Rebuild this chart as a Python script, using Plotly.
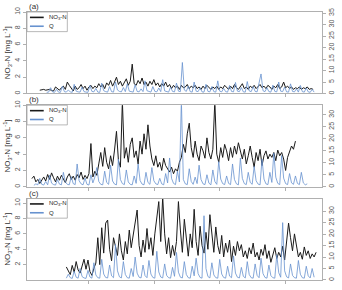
import plotly.graph_objects as go

# ---------------- data (x in plot units 0..300, sampled every 2 units) ----------------
X_TICKS = [63, 129.5, 196, 262.5]
LEFT_TICKS_AB = [0, 2, 4, 6, 8, 10]
LEFT_TICKS_C = [2, 4, 6, 8, 10]
RIGHT_TICKS_A = [0, 5, 10, 15, 20, 25, 30, 35]
RIGHT_TICKS_BC = [0, 5, 10, 15, 20, 25, 30]
PANEL_LABELS = ["(a)", "(b)", "(c)"]
NO3_NAME = "NO<sub>3</sub>-N"
Q_NAME = "Q"
STEP = 2

no3_a_start = 13
no3_a = [0.4, 0.45, 0.5, 0.4, 0.45, 0.5, 0.35,
         0.3, 0.8, 0.6, 0.4, 0.7, 0.9, 0.5,
         1.4, 1.0, 0.6, 0.3, 0.9, 0.5, 0.7,
         1.1, 0.6, 0.9, 0.4, 0.8, 1.0, 0.6,
         0.9, 0.7, 1.2, 0.8, 1.1, 0.6, 1.3,
         1.0, 1.6, 0.9, 1.4, 2.0, 1.1, 1.5,
         0.9, 1.3, 1.8, 1.0, 1.5, 3.6, 1.2,
         1.0, 1.6, 1.2, 1.9, 1.1, 1.4, 0.9,
         1.5, 1.1, 1.7, 1.0, 1.3, 0.8, 1.2,
         0.9, 1.4, 0.8, 1.1, 0.6, 1.0, 0.7,
         0.9, 0.5, 1.0, 0.7, 0.8, 1.1, 0.6,
         0.9, 0.7, 1.0, 0.6, 0.8, 0.5, 0.9,
         0.6, 1.0, 0.7, 0.5, 0.8, 0.6, 0.9,
         0.5, 0.8, 0.6, 1.0, 0.7, 0.5, 0.9,
         0.6, 1.1, 0.7, 0.5, 0.9, 1.2, 0.6,
         0.8, 0.5, 0.9, 0.7, 1.0, 0.6, 0.8,
         1.1, 0.7, 0.9, 0.6, 1.0, 0.8, 0.5,
         0.9, 0.7, 1.1, 0.6, 0.8, 1.4, 0.7,
         0.9, 0.6, 0.8, 0.5, 0.7, 0.6, 0.8,
         0.5, 0.7, 0.6, 0.8, 0.5, 0.6, 0.5]

q_a_start = 20
q_a = [0.5, 0.6, 2.5, 0.7, 0.5, 1.8, 0.6,
       0.5, 3.2, 0.8, 0.6, 1.5, 0.7, 0.5,
       4.0, 1.0, 0.7, 0.6, 2.8, 0.8, 0.6,
       0.5, 3.5, 0.9, 0.7, 2.2, 0.6, 0.5,
       4.5, 1.2, 0.8, 0.6, 3.0, 0.8, 0.6,
       5.0, 1.5, 0.9, 0.7, 2.6, 0.8, 4.2,
       1.0, 0.7, 0.6, 3.8, 0.9, 0.7, 2.0,
       0.8, 5.5, 1.2, 0.8, 0.6, 3.0, 0.9,
       0.7, 2.4, 0.8, 6.0, 1.1, 0.8, 0.6,
       2.8, 0.9, 0.7, 4.5, 1.0, 0.8, 13.5,
       1.5, 0.9, 3.2, 0.8, 0.6, 5.0, 1.0,
       0.8, 2.5, 0.7, 0.6, 4.0, 0.9, 0.7,
       3.0, 0.8, 0.6, 5.5, 1.0, 0.7, 2.2,
       0.8, 0.6, 3.5, 0.9, 0.7, 4.8, 1.0,
       0.8, 2.6, 0.7, 0.6, 5.2, 1.1, 0.8,
       3.0, 0.9, 0.7, 4.0, 8.5, 1.2, 0.8,
       2.5, 0.8, 0.6, 3.6, 0.9, 0.7, 5.0,
       1.0, 0.8, 2.8, 0.7, 0.6, 4.2, 0.9,
       0.7, 2.0, 0.6, 3.5, 0.8, 0.6, 2.4,
       0.7, 0.5, 1.8, 0.6]

no3_b_start = 5
no3_b = [1.0, 1.3, 0.6, 0.9, 0.4, 0.8, 1.2,
         0.7, 1.5, 0.9, 1.7, 1.1, 0.6, 1.3,
         0.8, 1.4, 1.0, 0.5, 1.2, 1.6, 0.9,
         1.3, 0.8, 1.5, 1.1, 1.8, 0.9, 1.4,
         1.0, 1.6, 5.3, 1.2, 1.9, 1.4, 2.8,
         4.2, 2.5, 4.8, 3.0, 2.2, 3.8, 2.6,
         4.5, 6.8, 3.2, 2.4, 10.5, 3.5, 4.8,
         3.0, 5.2, 6.0, 3.6, 4.4, 2.8, 5.6,
         4.0, 6.5, 4.6, 7.6, 5.0, 3.4, 2.6,
         3.8, 2.4, 3.0, 2.0, 3.5, 2.6, 2.2,
         1.8, 2.4, 1.6, 2.2, 1.9, 3.0, 3.6,
         5.2, 4.2, 6.5, 7.8, 4.8, 3.6, 5.6,
         4.0, 3.2, 5.0, 4.4, 3.5, 6.0, 4.2,
         3.4, 4.6, 10.5, 4.0, 3.0, 4.8, 3.6,
         5.2, 4.4, 3.2, 4.8, 3.6, 5.0, 4.0,
         5.4, 4.2, 3.4, 4.6, 2.8, 3.8, 5.0,
         3.6, 2.4, 4.2, 3.2, 4.6, 2.6, 3.8,
         4.4, 3.4, 4.0, 3.6, 4.2, 3.2, 4.5,
         3.8, 4.2, 3.4, 2.0, 3.6, 4.4, 5.0,
         4.6, 5.6]

q_b_start = 7
q_b = [0.6, 1.2, 0.8, 3.5, 1.0, 0.7, 2.2,
       0.8, 4.8, 1.5, 0.9, 0.7, 3.0, 1.1,
       0.8, 6.0, 2.0, 1.0, 0.8, 4.2, 1.3,
       0.9, 9.5, 2.5, 1.2, 0.8, 3.6, 1.0,
       0.7, 5.0, 1.6, 4.0, 8.0, 2.2, 1.0,
       0.8, 6.5, 1.8, 1.0, 9.0, 2.4, 1.1,
       0.8, 11.5, 3.0, 1.3, 0.9, 7.0, 2.0,
       1.0, 0.8, 4.5, 1.4, 9.5, 2.6, 1.1,
       0.8, 6.0, 1.8, 1.0, 8.0, 2.5, 1.2,
       0.9, 3.5, 1.2, 0.8, 5.5, 1.6, 12.0,
       3.5, 1.4, 0.9, 6.5, 2.0, 36.0, 3.0,
       1.2, 0.9, 7.5, 2.2, 1.0, 4.0, 1.3,
       9.0, 3.0, 1.2, 0.9, 5.0, 1.5, 0.8,
       7.0, 2.2, 1.0, 10.5, 3.2, 1.3, 0.9,
       4.5, 1.4, 0.9, 9.5, 3.0, 1.2, 0.8,
       12.0, 3.5, 1.3, 0.9, 6.0, 1.8, 1.0,
       8.5, 2.5, 1.1, 0.8, 11.5, 3.2, 1.2,
       0.9, 6.0, 1.8, 14.0, 4.0, 1.4, 0.9,
       13.0, 3.6, 1.3, 0.9, 5.5, 1.6, 1.0,
       4.5, 1.4, 0.9, 6.0, 1.6, 0.8, 1.2]

no3_c_start = 40
no3_c = [1.7, 1.2, 0.7, 1.9, 1.0, 2.4, 1.3,
         0.9, 2.0, 2.7, 1.4, 2.6, 1.1, 0.6,
         1.5, 2.2, 5.5, 2.0, 6.8, 3.5, 7.4,
         7.8, 4.0, 2.5, 5.5, 4.3, 3.2, 6.0,
         3.8, 2.6, 5.0, 3.4, 6.5, 4.2, 5.8,
         7.5, 9.1, 4.5, 3.0, 5.2, 3.6, 6.7,
         4.0, 5.5, 3.2, 6.0, 8.0, 10.2, 5.0,
         10.8, 6.0, 3.4, 5.5, 2.9, 4.5, 3.2,
         5.0, 10.2, 6.5, 3.6, 7.9, 5.0, 3.1,
         6.0, 4.2, 9.2, 5.0, 3.2, 7.0, 4.5,
         3.5, 6.2, 4.0, 8.5, 5.5, 3.6, 6.9,
         4.5, 3.4, 5.8, 3.0, 4.8, 3.6, 5.2,
         2.4, 4.4, 3.2, 5.0, 3.8, 4.6, 3.0,
         3.8, 2.8, 4.2, 3.4, 4.8, 3.0, 3.6,
         2.6, 4.0, 3.2, 4.6, 2.8, 3.8, 2.3,
         3.4, 4.2, 2.8, 3.6, 3.0, 4.4, 2.6,
         4.8, 7.4, 5.5, 3.8, 6.0, 4.2, 3.0,
         3.6, 2.7, 4.3, 3.2, 3.8, 2.8, 3.4,
         3.0, 3.6]

q_c_start = 40
q_c = [0.8, 2.5, 1.0, 0.7, 3.8, 1.2, 0.8,
       5.0, 1.5, 0.9, 0.7, 4.2, 1.3, 0.8,
       7.5, 2.2, 1.0, 0.8, 9.0, 2.6, 1.1,
       0.9, 6.5, 1.8, 1.0, 15.4, 4.0, 1.4,
       0.9, 8.0, 2.4, 1.0, 0.8, 5.0, 1.5,
       10.0, 3.0, 1.2, 0.9, 6.5, 1.9, 1.0,
       8.5, 2.6, 1.1, 0.8, 12.5, 3.5, 1.3,
       0.9, 7.0, 2.0, 1.0, 0.8, 5.5, 1.6,
       12.0, 3.4, 1.2, 0.9, 8.0, 2.4, 1.0,
       0.8, 6.0, 1.8, 9.5, 2.8, 1.1, 0.8,
       28.0, 5.0, 1.5, 0.9, 7.5, 2.2, 1.0,
       0.8, 9.0, 2.6, 1.1, 0.8, 6.0, 1.7,
       1.0, 10.5, 3.0, 1.2, 0.9, 5.5, 1.6,
       0.9, 8.0, 2.4, 1.0, 0.8, 7.0, 2.0,
       1.0, 9.5, 2.8, 1.1, 0.8, 6.5, 1.9,
       1.0, 0.8, 11.0, 3.2, 1.2, 25.0, 4.0,
       1.4, 0.9, 7.0, 2.0, 1.0, 0.8, 8.5,
       2.5, 1.0, 0.8, 6.0, 1.8, 0.9, 5.0,
       1.2]

# ---------------- styling ----------------
BLACK = "#1a1a1a"
BLUE = "#6792cf"
AXIS = "#b0b0b0"
FONT = "Liberation Sans, Arial, sans-serif"
PLOT_W = 300.0   # plot-area width in px
PLOT_H = 273.0   # total plot-area height in px


def xs(start, vals):
    return [start + STEP * i for i in range(len(vals))]


panels = [
    dict(no3=no3_a, no3_start=no3_a_start, q=q_a, q_start=q_a_start,
         dom=[0.696, 1.0], lrange=[0, 10], lticks=LEFT_TICKS_AB,
         rrange=[0, 35.5], rticks=RIGHT_TICKS_A),
    dict(no3=no3_b, no3_start=no3_b_start, q=q_b, q_start=q_b_start,
         dom=[0.348, 0.652], lrange=[0, 10], lticks=LEFT_TICKS_AB,
         rrange=[0, 34], rticks=RIGHT_TICKS_BC),
    dict(no3=no3_c, no3_start=no3_c_start, q=q_c, q_start=q_c_start,
         dom=[0.0, 0.304], lrange=[0, 10.6], lticks=LEFT_TICKS_C,
         rrange=[0, 35.5], rticks=RIGHT_TICKS_BC),
]

fig = go.Figure()
layout = dict(
    width=342, height=290,
    margin=dict(l=27, r=15, t=10, b=7),
    paper_bgcolor="white", plot_bgcolor="white",
    font=dict(family=FONT, size=7, color="#555"),
    showlegend=False,
    annotations=[],
    shapes=[],
)

for k, p in enumerate(panels):
    n = k + 1
    xname = "x" if n == 1 else f"x{n}"
    yl = 2 * n - 1
    yr = 2 * n
    ylname = "y" if yl == 1 else f"y{yl}"
    yrname = f"y{yr}"

    fig.add_trace(go.Scatter(x=xs(p["no3_start"], p["no3"]), y=p["no3"],
                             mode="lines", name=NO3_NAME,
                             line=dict(color=BLACK, width=1.0),
                             xaxis=xname, yaxis=ylname))
    fig.add_trace(go.Scatter(x=xs(p["q_start"], p["q"]), y=p["q"],
                             mode="lines", name=Q_NAME,
                             line=dict(color=BLUE, width=0.8),
                             xaxis=xname, yaxis=yrname))

    xkey = "xaxis" if n == 1 else f"xaxis{n}"
    ylkey = "yaxis" if yl == 1 else f"yaxis{yl}"
    yrkey = f"yaxis{yr}"

    layout[xkey] = dict(domain=[0, 1], anchor=ylname, range=[0, 300],
                        tickvals=X_TICKS, showticklabels=False,
                        ticks="outside", ticklen=3, tickcolor=AXIS,
                        showline=True, linecolor=AXIS, linewidth=1,
                        mirror=True, showgrid=False, zeroline=False)
    layout[ylkey] = dict(domain=p["dom"], anchor=xname, range=p["lrange"],
                         tickvals=p["lticks"], tickangle=-90,
                         ticks="outside", ticklen=3, tickcolor=AXIS,
                         showline=True, linecolor=AXIS, linewidth=1,
                         mirror=True, showgrid=False, zeroline=False,
                         title=dict(text="NO<sub>3</sub>-N [mg L<sup>-1</sup>]",
                                    font=dict(size=8, color="#333"),
                                    standoff=2))
    layout[yrkey] = dict(overlaying=ylname, side="right", anchor=xname,
                         range=p["rrange"], tickvals=p["rticks"],
                         tickangle=-90, ticks="outside", ticklen=3,
                         tickcolor=AXIS, showline=True, linecolor=AXIS,
                         linewidth=1, showgrid=False, zeroline=False)

    # panel label
    top = p["dom"][1]
    layout["annotations"].append(dict(
        text=PANEL_LABELS[k], xref="paper", yref="paper",
        x=0, y=top, xanchor="left", yanchor="bottom",
        showarrow=False, font=dict(size=8, color="#333"), yshift=-1))

    # legend box (drawn as decoration in paper coordinates)
    box_w = 41 / PLOT_W
    box_h = 20 / PLOT_H
    layout["shapes"].append(dict(type="rect", xref="paper", yref="paper",
                                 x0=0, x1=box_w, y0=top - box_h, y1=top,
                                 line=dict(color="#999", width=0.7),
                                 fillcolor="white", layer="above"))
    for j, (nm, col) in enumerate([(NO3_NAME, BLACK), (Q_NAME, BLUE)]):
        yy = top - (5.5 + 9 * j) / PLOT_H
        layout["shapes"].append(dict(type="line", xref="paper", yref="paper",
                                     x0=3 / PLOT_W, x1=17 / PLOT_W, y0=yy, y1=yy,
                                     line=dict(color=col, width=1.6),
                                     layer="above"))
        layout["annotations"].append(dict(
            text=nm, xref="paper", yref="paper", x=20 / PLOT_W, y=yy,
            xanchor="left", yanchor="middle", showarrow=False,
            font=dict(size=6, color="#222")))

fig.update_layout(**layout)
fig.write_html("out.html")
